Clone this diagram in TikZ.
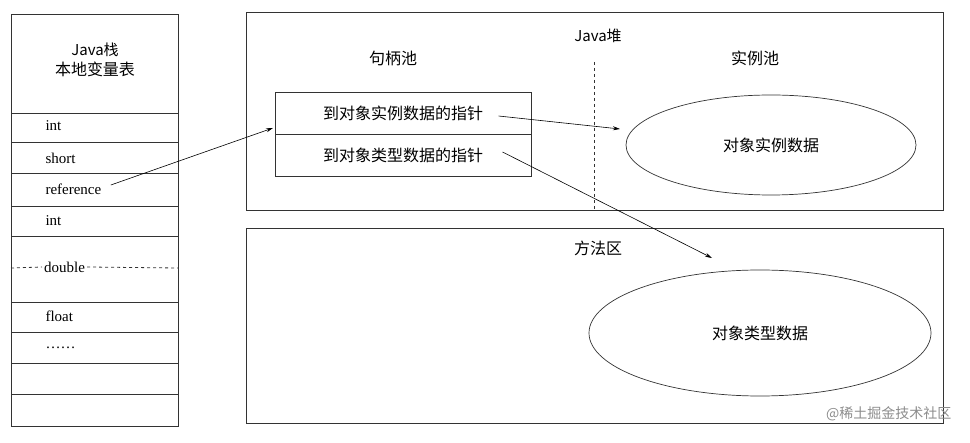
\documentclass[tikz,border=0pt]{standalone}
\usepackage{fontspec}
\setmainfont{Liberation Serif}
\newfontfamily\cjk{Noto Sans CJK SC}
\usetikzlibrary{positioning,calc,arrows.meta,shapes.geometric}

\begin{document}
\begin{tikzpicture}[x=1pt,y=-1pt,
    frame/.style={draw=black!80, line width=0.8pt},
    cell/.style={anchor=west, font=\fontsize{15}{18}\selectfont},
    title/.style={font=\cjk\fontsize{16}{20}\selectfont, align=center},
    pool/.style={ellipse, draw=black!80, line width=0.7pt},
    arrow/.style={-{Stealth[length=7pt,width=4pt]}, line width=0.6pt}
]
    \useasboundingbox (0,0) rectangle (970,443);
    % Stack
    \draw[frame] (11,14) rectangle (178,426);
    \node[title] (stack) at (95,60) {\fontsize{15}{20}\selectfont Java\cjk 栈\\本地变量表};
    \foreach \y in {113,142,173,206,236,302,332,363,394}
        \draw[frame] (11,\y) -- (178,\y);
    \node[cell] (c1) at (42,126) {int};
    \node[cell] (c2) at (42,158) {short};
    \node[cell] (ref) at (42,189) {reference};
    \node[cell] (c4) at (42,221) {int};
    \node[cell, fill=white, inner xsep=2pt] (dbl) at (42,267) {double};
    \node[cell] (c6) at (42,316) {float};
    \node[cell] (c7) at (42,348) {……};
    \draw[frame, dashed] (11,268) -- (dbl.west);
    \draw[frame, dashed] (dbl.east) -- (178,268);

    % Heap
    \draw[frame] (246,12) rectangle (943,210);
    \node[title] (heap) at (598,36) {\fontsize{15}{20}\selectfont Java\cjk 堆};
    \node[title] (hpool) at (393,58) {句柄池};
    \node[title] (ipool) at (755,58) {实例池};
    \draw[frame, dashed] (594,62) -- (594,210);
    \draw[frame] (275,92) rectangle (531,176);
    \draw[frame] (275,134) -- (531,134);
    \node[title] (pinst) at (403,113) {到对象实例数据的指针};
    \node[title] (ptype) at (403,155) {到对象类型数据的指针};
    \node[pool, minimum width=290pt, minimum height=100pt] (inst) at (771,145) {};
    \node[title] at (inst) {对象实例数据};

    % Method area
    \draw[frame] (246,228) rectangle (943,423);
    \node[title] (marea) at (598,248) {方法区};
    \node[pool, minimum width=342pt, minimum height=126pt] (tdata) at (760,333) {};
    \node[title] at (tdata) {对象类型数据};

    % Arrows
    \coordinate (hin) at (273,128);
    \coordinate (iin) at (620,129);
    \coordinate (tin) at (712,258);
    \draw[arrow] (ref.east) ++(6,-4) -- (hin);
    \draw[arrow] (pinst.east) ++(12,3) -- (iin);
    \draw[arrow] (ptype.east) ++(16,-3) -- (tin);

    \node[font=\cjk\fontsize{14}{16}\selectfont, text=black!45, anchor=east] (wm) at (955,414) {@稀土掘金技术社区};
\end{tikzpicture}
\end{document}
